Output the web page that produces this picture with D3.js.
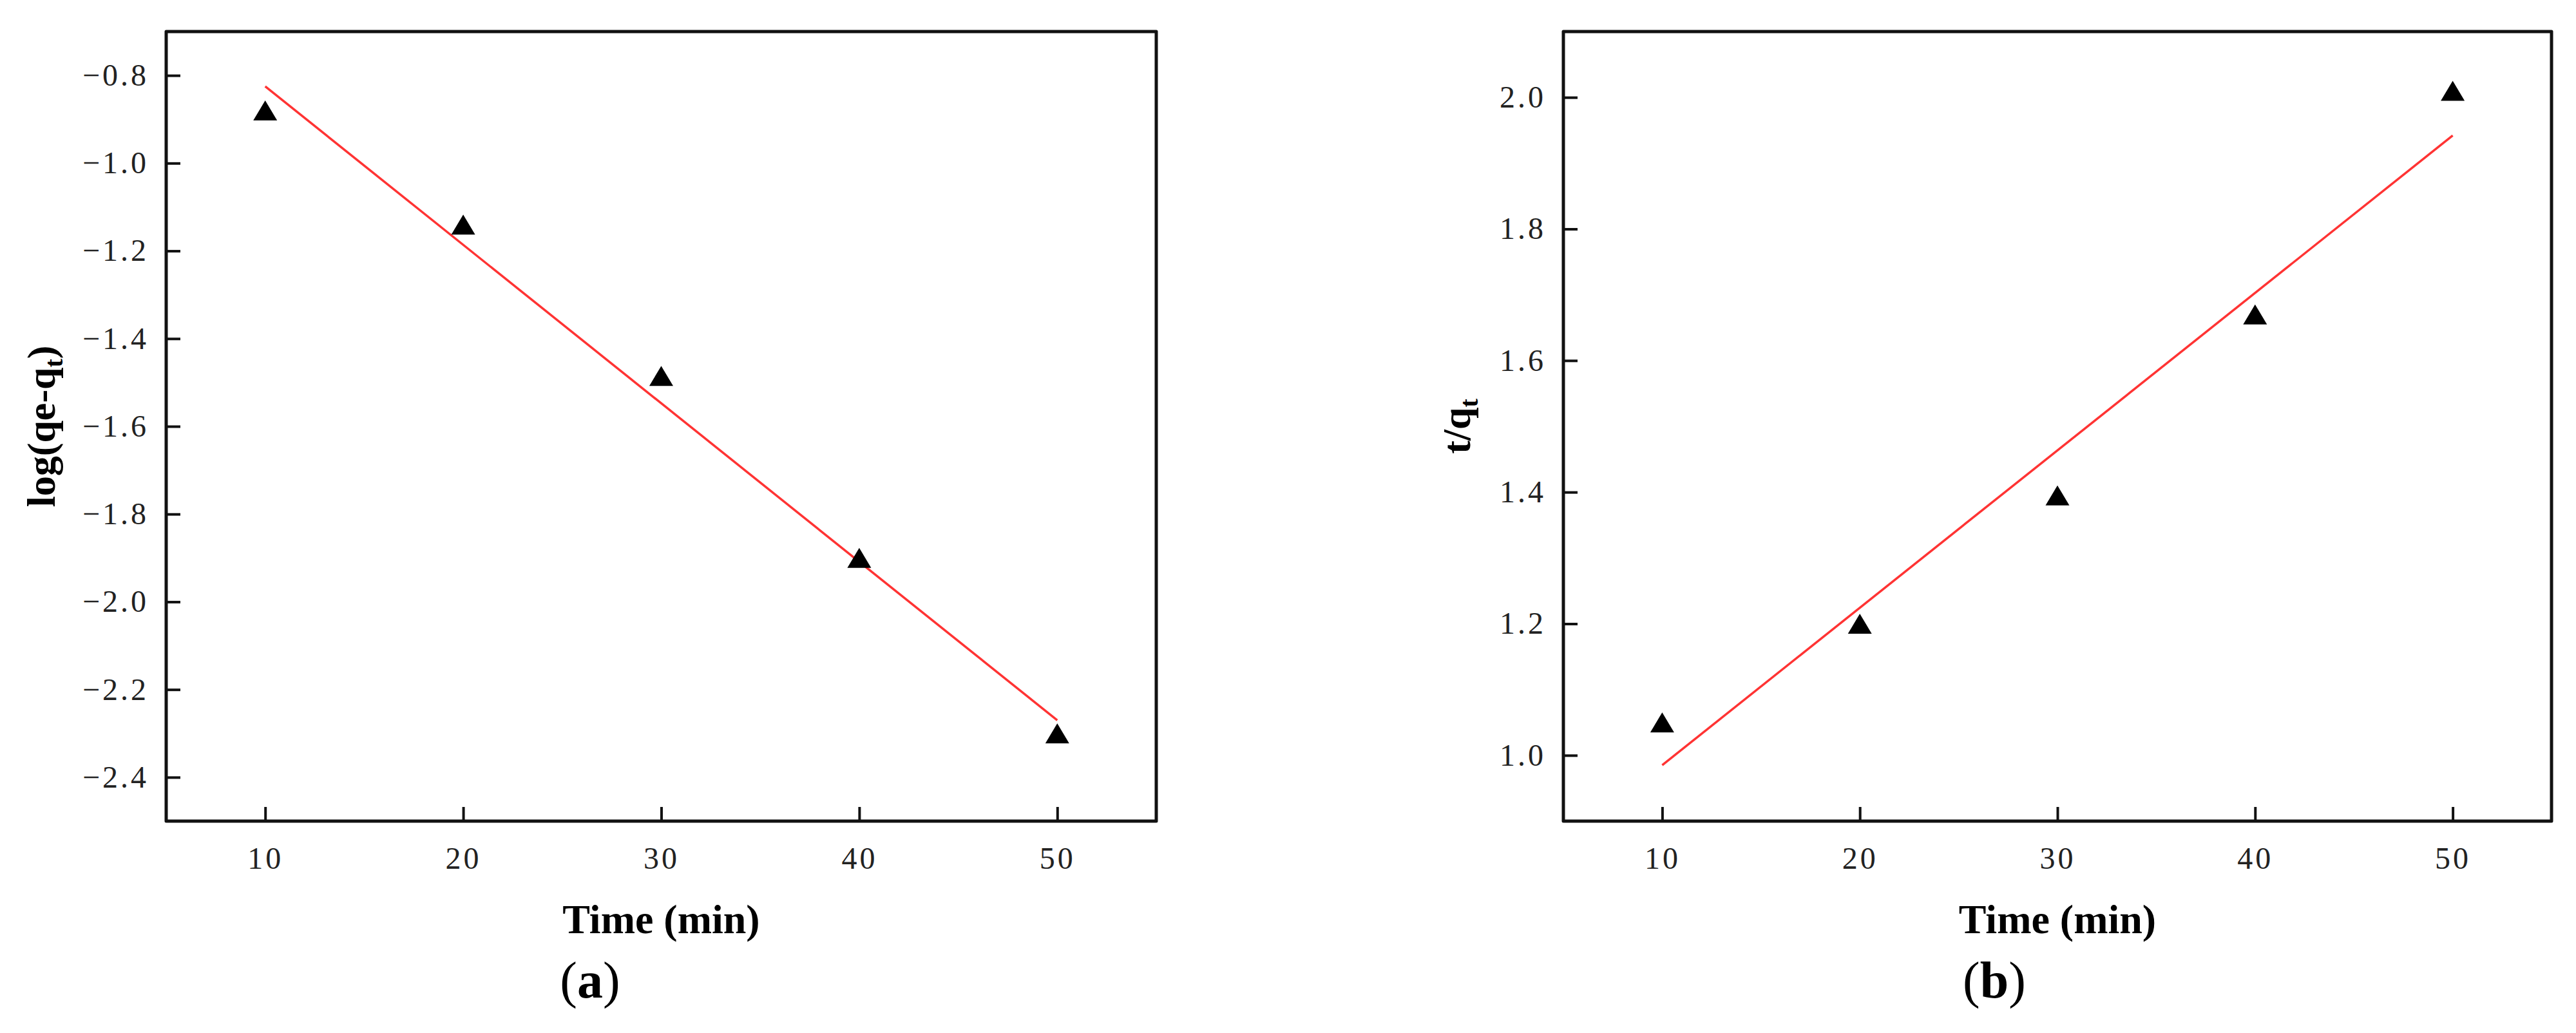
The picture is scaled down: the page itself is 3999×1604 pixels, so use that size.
<!DOCTYPE html>
<html>
<head>
<meta charset="utf-8">
<style type="text/css">
  body { margin: 0; background: #fff; }
  .tick text { font-family: "Liberation Serif", "DejaVu Serif", serif; font-size: 48px; fill: #222; letter-spacing: 4px; }
  .tick line { stroke: #111; stroke-width: 4px; }
  .title { font-family: "Liberation Serif", serif; font-weight: bold; fill: #000; }
</style>
</head>
<body>
<svg id="chart" width="3999" height="1604"></svg>
<script src="https://cdn.jsdelivr.net/npm/d3@7/dist/d3.min.js"></script>
<script>
  var svg = d3.select("#chart"),
    width = +svg.attr("width"),
    height = +svg.attr("height");

  svg.append("rect").attr("width", width).attr("height", height).attr("fill", "#fff");

  // DATA
  var times = [10, 20, 30, 40, 50];
  var logQ = [-0.88, -1.14, -1.485, -1.90, -2.30];      // panel (a)
  var tOverQ = [1.05, 1.20, 1.395, 1.67, 2.01];         // panel (b)
  var fitTimes = [10, 50];
  var fitLogQ = [-0.825, -2.27];
  var fitTOverQ = [0.985, 1.942];
  var xTicks = [10, 20, 30, 40, 50];
  var yTicksA = [-0.8, -1.0, -1.2, -1.4, -1.6, -1.8, -2.0, -2.2, -2.4];
  var yTicksB = [1.0, 1.2, 1.4, 1.6, 1.8, 2.0];

  var plotTop = 49, plotBottom = 1275;

  var panels = [
    { left: 258, right: 1795, yDomain: [-2.5, -0.7], yTicks: yTicksA, ys: logQ, fit: fitLogQ,
      ylabel: ["log(qe-q", "t", ")"], ylabelX: 85, tag: "a", tagX: 916 },
    { left: 2427, right: 3961, yDomain: [0.9, 2.1], yTicks: yTicksB, ys: tOverQ, fit: fitTOverQ,
      ylabel: ["t/q", "t", ""], ylabelX: 2282, tag: "b", tagX: 3096 }
  ];

  var fmt = d3.format(".1f");

  panels.forEach(function(p) {
    var x = d3.scaleLinear().domain([5, 55]).range([p.left, p.right]);
    var y = d3.scaleLinear().domain(p.yDomain).range([plotBottom, plotTop]);
    var g = svg.append("g");

    // axes with inward ticks
    g.append("g")
      .attr("transform", "translate(0," + plotBottom + ")")
      .call(d3.axisBottom(x).tickValues(xTicks).tickSizeInner(-22).tickSizeOuter(0).tickPadding(40).tickFormat(d3.format("d")))
      .call(function(a) { a.select(".domain").remove(); });

    g.append("g")
      .attr("transform", "translate(" + p.left + ",0)")
      .call(d3.axisLeft(y).tickValues(p.yTicks).tickSizeInner(-22).tickSizeOuter(0).tickPadding(27).tickFormat(fmt))
      .call(function(a) { a.select(".domain").remove(); });

    g.selectAll(".tick text").attr("font-family", null).attr("font-size", null);

    // frame
    g.append("rect")
      .attr("x", p.left).attr("y", plotTop)
      .attr("width", p.right - p.left).attr("height", plotBottom - plotTop)
      .attr("fill", "none").attr("stroke", "#111").attr("stroke-width", 5)
      .attr("stroke-linejoin", "round");

    // fitted line
    var line = d3.line()
      .x(function(d, i) { return x(fitTimes[i]); })
      .y(function(d) { return y(d); });
    g.append("path")
      .datum(p.fit)
      .attr("d", line)
      .attr("fill", "none").attr("stroke", "#ff3333").attr("stroke-width", 3.5);

    // triangles
    g.selectAll(".pt")
      .data(p.ys)
      .enter()
      .append("path")
      .attr("class", "pt")
      .attr("d", "M0,-15.5L18.5,15.5L-18.5,15.5Z")
      .attr("transform", function(d, i) { return "translate(" + x(times[i]) + "," + y(d) + ")"; })
      .attr("fill", "#000");

    // x title
    g.append("text")
      .attr("class", "title")
      .attr("x", (p.left + p.right) / 2)
      .attr("y", 1449)
      .attr("text-anchor", "middle")
      .attr("font-size", 64)
      .text("Time (min)");

    // y title
    var yt = g.append("text")
      .attr("class", "title")
      .attr("transform", "translate(" + p.ylabelX + "," + (plotTop + plotBottom) / 2 + ") rotate(-90)")
      .attr("text-anchor", "middle")
      .attr("font-size", 62);
    yt.append("tspan").text(p.ylabel[0]);
    yt.append("tspan").attr("font-size", 40).attr("dy", 12).text(p.ylabel[1]);
    yt.append("tspan").attr("dy", -12).text(p.ylabel[2]);

    // panel tag
    var tg = svg.append("text")
      .attr("x", p.tagX).attr("y", 1549)
      .attr("text-anchor", "middle")
      .attr("font-family", "Liberation Serif, serif")
      .attr("font-size", 80);
    tg.append("tspan").text("(");
    tg.append("tspan").attr("font-weight", "bold").text(p.tag);
    tg.append("tspan").text(")");
  });
</script>
</body>
</html>
